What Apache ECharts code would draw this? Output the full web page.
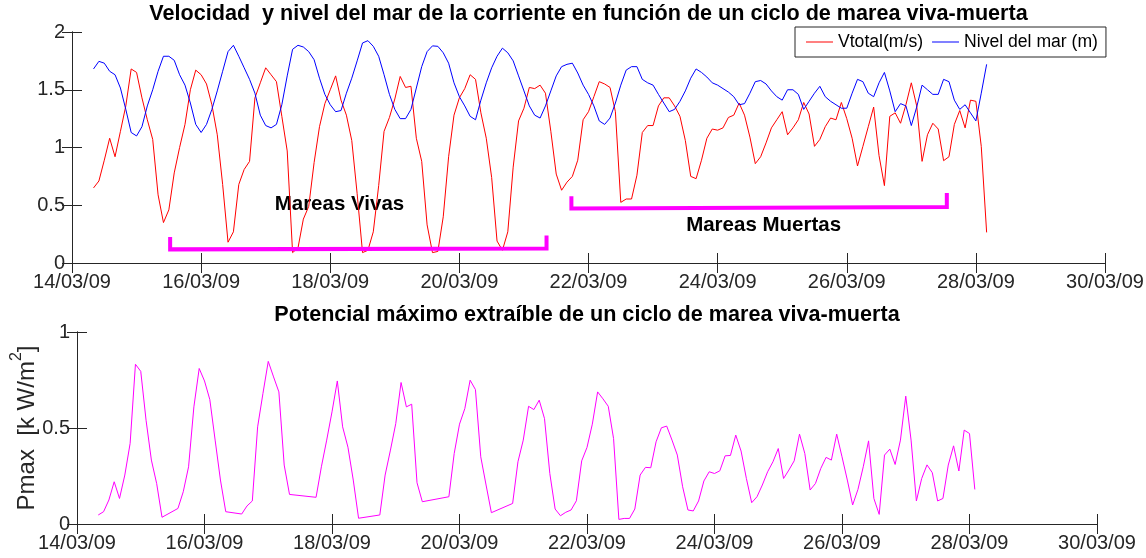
<!DOCTYPE html>
<html>
<head>
<meta charset="utf-8">
<script src="https://cdn.jsdelivr.net/npm/echarts@6/dist/echarts.min.js"></script>
<style>
html, body { margin: 0; padding: 0; background: #fff; }
#grafico { width: 1146px; height: 558px; }
</style>
</head>
<body>
<div id="grafico"></div>
<script>
// etiquetas del eje x (cada 2 dias desde 14/03/09)
const tickLabels = ['14/03/09', '16/03/09', '18/03/09', '20/03/09', '22/03/09', '24/03/09', '26/03/09', '28/03/09', '30/03/09']

// primera muestra 14/03/09 08:00, una muestra cada 2 horas
const startHour = 8
const stepHours = 2

// velocidad total (m/s)
const vtotal = [
  0.65, 0.71, 0.89, 1.08, 0.92, 1.14, 1.36, 1.68, 1.65, 1.43,
  1.24, 1.07, 0.59, 0.35, 0.46, 0.78, 1.00, 1.20, 1.50, 1.67,
  1.63, 1.55, 1.37, 1.11, 0.68, 0.18, 0.27, 0.68, 0.81, 0.88,
  1.43, 1.56, 1.69, 1.63, 1.57, 1.27, 0.97, 0.09, 0.13, 0.38,
  0.49, 0.87, 1.18, 1.38, 1.50, 1.62, 1.41, 1.28, 1.06, 0.60,
  0.09, 0.11, 0.27, 0.67, 1.14, 1.26, 1.42, 1.615, 1.52, 1.53,
  1.08, 0.88, 0.33, 0.09, 0.10, 0.40, 0.92, 1.28, 1.43, 1.51,
  1.63, 1.59, 1.30, 1.08, 0.74, 0.19, 0.11, 0.27, 0.83, 1.23,
  1.34, 1.52, 1.51, 1.54, 1.47, 1.14, 0.77, 0.63, 0.70, 0.75,
  0.89, 1.24, 1.31, 1.44, 1.57, 1.55, 1.52, 1.31, 0.525, 0.554,
  0.554, 0.76, 1.13, 1.19, 1.19, 1.36, 1.43, 1.43, 1.36, 1.27,
  1.06, 0.75, 0.73, 0.89, 1.08, 1.16, 1.15, 1.17, 1.26, 1.28,
  1.385, 1.28, 1.09, 0.86, 0.92, 1.04, 1.17, 1.24, 1.31, 1.11,
  1.17, 1.24, 1.39, 1.29, 1.01, 1.07, 1.18, 1.255, 1.24, 1.39,
  1.25, 1.08, 0.84, 1.01, 1.18, 1.35, 0.93, 0.67, 1.27, 1.30,
  1.21, 1.37, 1.56, 1.36, 0.88, 1.11, 1.21, 1.16, 0.886, 0.92,
  1.20, 1.32, 1.17, 1.41, 1.40, 1.01, 0.265
]

// nivel del mar (m)
const nivel = [
  1.68, 1.746, 1.73, 1.66, 1.63, 1.515, 1.33, 1.13, 1.10, 1.18,
  1.36, 1.50, 1.66, 1.79, 1.79, 1.755, 1.63, 1.54, 1.385, 1.20,
  1.13, 1.20, 1.33, 1.49, 1.66, 1.83, 1.885, 1.79, 1.69, 1.59,
  1.47, 1.28, 1.19, 1.17, 1.20, 1.37, 1.62, 1.85, 1.885, 1.87,
  1.83, 1.76, 1.60, 1.46, 1.37, 1.31, 1.32, 1.47, 1.60, 1.75,
  1.905, 1.925, 1.876, 1.79, 1.63, 1.46, 1.33, 1.25, 1.25, 1.33,
  1.515, 1.70, 1.83, 1.88, 1.876, 1.82, 1.73, 1.56, 1.44, 1.36,
  1.27, 1.24, 1.41, 1.56, 1.69, 1.79, 1.86, 1.82, 1.75, 1.62,
  1.49, 1.36, 1.28, 1.255, 1.36, 1.49, 1.62, 1.70, 1.72, 1.73,
  1.645, 1.54, 1.46, 1.36, 1.23, 1.20, 1.255, 1.385, 1.54, 1.67,
  1.70, 1.70, 1.59, 1.56, 1.54, 1.46, 1.385, 1.31, 1.33, 1.40,
  1.49, 1.60, 1.68, 1.65, 1.61, 1.56, 1.54, 1.51, 1.48, 1.44,
  1.37, 1.38, 1.47, 1.57, 1.58, 1.55, 1.49, 1.44, 1.41, 1.50,
  1.50, 1.46, 1.33, 1.40, 1.47, 1.53, 1.44, 1.40, 1.37, 1.34,
  1.34, 1.47, 1.59, 1.57, 1.47, 1.44, 1.56, 1.65, 1.49, 1.31,
  1.38, 1.36, 1.19, 1.35, 1.54, 1.50, 1.46, 1.46, 1.59, 1.57,
  1.41, 1.33, 1.37, 1.30, 1.23, 1.47, 1.72
]

// potencial maximo (kW/m2), null = sin dato
const pmax = [
  0.047, 0.064, 0.125, 0.22, 0.133, 0.255, 0.42, 0.832, 0.795, 0.54,
  0.333, 0.21, 0.035, null, null, 0.081, 0.168, 0.298, 0.61, 0.81,
  0.745, 0.648, 0.437, 0.229, 0.064, null, null, 0.052, 0.094, 0.12,
  0.506, 0.68, 0.847, 0.766, 0.688, 0.307, 0.154, null, null, null,
  null, 0.139, 0.298, 0.437, 0.584, 0.745, 0.506, 0.40, 0.229, 0.03,
  null, null, null, 0.047, 0.255, 0.385, 0.523, 0.737, 0.61, 0.624,
  0.215, 0.116, null, null, null, null, 0.142, 0.367, 0.52, 0.601,
  0.749, 0.70, 0.35, 0.203, 0.059, null, null, null, 0.107, 0.324,
  0.437, 0.613, 0.596, 0.645, 0.549, 0.263, 0.078, 0.043, 0.061, 0.073,
  0.121, 0.329, 0.399, 0.52, 0.688, 0.652, 0.613, 0.445, 0.024, 0.029,
  0.029, 0.078, 0.255, 0.295, 0.293, 0.428, 0.501, 0.51, 0.437, 0.359,
  0.194, 0.073, 0.068, 0.12, 0.224, 0.272, 0.263, 0.277, 0.355, 0.357,
  0.463, 0.38, 0.237, 0.111, 0.142, 0.203, 0.272, 0.324, 0.393, 0.237,
  0.281, 0.329, 0.468, 0.367, 0.177, 0.211, 0.289, 0.347, 0.333, 0.468,
  0.35, 0.229, 0.099, 0.18, 0.298, 0.433, 0.133, 0.05, 0.359, 0.39,
  0.31, 0.437, 0.666, 0.437, 0.12, 0.237, 0.308, 0.267, 0.12, 0.133,
  0.307, 0.407, 0.276, 0.489, 0.471, 0.18
]

// corchetes y textos de las mareas (dias desde 14/03/09, valor)
const bracketVivas = [[1.52, 0.225], [1.52, 0.118], [7.35, 0.126], [7.35, 0.239]]
const bracketMuertas = [[7.735, 0.577], [7.735, 0.472], [13.55, 0.484], [13.55, 0.606]]
const etiquetasMareas = [
  { name: 'Mareas Vivas', value: [4.15, 0.505] },
  { name: 'Mareas Muertas', value: [10.72, 0.321] }
]

const titulo1 = 'Velocidad  y nivel del mar de la corriente en función de un ciclo de marea viva-muerta'
const titulo2 = 'Potencial máximo extraíble de un ciclo de marea viva-muerta'

const fuente = 'Liberation Sans'
const gris = '#262626'

// tiempo de cada muestra en dias
let dias = []
for (let i = 0; i < vtotal.length; i++) {
  dias.push((startHour + i * stepHours) / 24)
}
const serie = arr => arr.map((v, i) => [dias[i], v])

function ejeX(grid, pos, labels) {
  return {
    type: 'value', gridIndex: grid, position: pos, min: 0, max: 16, interval: 2,
    axisLine: { show: true, lineStyle: { color: gris, width: 1 } },
    axisTick: { show: true, inside: true, length: 10, lineStyle: { color: gris } },
    splitLine: { show: false },
    axisLabel: {
      show: labels, margin: 9, color: gris, fontSize: 20, fontFamily: fuente,
      showMinLabel: true, showMaxLabel: true,
      formatter: v => tickLabels[Math.round(v / 2)]
    }
  }
}
function ejeY(grid, pos, max, labels) {
  return {
    type: 'value', gridIndex: grid, position: pos, min: 0, max: max, interval: 0.5,
    axisLine: { show: true, lineStyle: { color: gris, width: 1 } },
    axisTick: { show: true, inside: true, length: 10, lineStyle: { color: gris } },
    splitLine: { show: false },
    axisLabel: { show: labels, margin: 7, color: gris, fontSize: 20, fontFamily: fuente }
  }
}

let myChart = echarts.init(document.getElementById('grafico'))
let yPot = ejeY(1, 'left', 1, true)
yPot.name = '{a|Pmax  [k W/m}{b|2}{a|]}'
yPot.nameLocation = 'middle'
yPot.nameRotate = 90
yPot.nameGap = 38
yPot.nameMoveOverlap = false
yPot.nameTextStyle = {
  color: gris, fontSize: 24, fontFamily: fuente,
  rich: {
    a: { color: gris, fontSize: 24, lineHeight: 30, fontFamily: fuente, verticalAlign: 'bottom' },
    b: { color: gris, fontSize: 16, lineHeight: 30, fontFamily: fuente, verticalAlign: 'top' }
  }
}

myChart.setOption({
  animation: false,
  backgroundColor: '#fff',
  grid: [
    { left: 72, right: 41, top: 32, height: 231, outerBoundsMode: 'none' },
    { left: 77, right: 49, top: 332, height: 192, outerBoundsMode: 'none' }
  ],
  xAxis: [ejeX(0, 'bottom', true), ejeX(0, 'top', false), ejeX(1, 'bottom', true), ejeX(1, 'top', false)],
  yAxis: [ejeY(0, 'left', 2, true), ejeY(0, 'right', 2, false), yPot, ejeY(1, 'right', 1, false)],
  legend: {
    data: ['Vtotal(m/s)', 'Nivel del mar (m)'],
    left: 795, top: 27,
    padding: [6, 8, 6, 11],
    itemGap: 9, itemWidth: 27, itemHeight: 1,
    icon: 'rect',
    backgroundColor: '#fff', borderColor: gris, borderWidth: 1, borderRadius: 0,
    textStyle: { color: '#000', fontSize: 17.6, fontFamily: fuente }
  },
  graphic: [
    { type: 'text', x: 588.5, y: 14.5, z: 10, style: { text: titulo1, fill: '#000', font: 'bold 21.6px "Liberation Sans"', align: 'center', verticalAlign: 'middle', textAlign: 'center', textVerticalAlign: 'middle' } },
    { type: 'text', x: 587, y: 314.7, z: 10, style: { text: titulo2, fill: '#000', font: 'bold 21.6px "Liberation Sans"', align: 'center', verticalAlign: 'middle', textAlign: 'center', textVerticalAlign: 'middle' } }
  ],
  series: [
    {
      name: 'Vtotal(m/s)', type: 'line', xAxisIndex: 0, yAxisIndex: 0,
      data: serie(vtotal), showSymbol: false, symbol: 'none',
      color: '#FF0000', lineStyle: { color: '#FF0000', width: 1 }
    },
    {
      name: 'Nivel del mar (m)', type: 'line', xAxisIndex: 0, yAxisIndex: 0,
      data: serie(nivel), showSymbol: false, symbol: 'none',
      color: '#0000FF', lineStyle: { color: '#0000FF', width: 1 }
    },
    {
      name: 'vivas', type: 'line', xAxisIndex: 0, yAxisIndex: 0,
      data: bracketVivas, symbol: 'none',
      lineStyle: { color: '#FF00FF', width: 4, cap: 'butt', join: 'miter' }
    },
    {
      name: 'muertas', type: 'line', xAxisIndex: 0, yAxisIndex: 0,
      data: bracketMuertas, symbol: 'none',
      lineStyle: { color: '#FF00FF', width: 4, cap: 'butt', join: 'miter' }
    },
    {
      name: 'textos', type: 'scatter', xAxisIndex: 0, yAxisIndex: 0,
      data: etiquetasMareas, symbolSize: 1,
      itemStyle: { color: '#fff', opacity: 0 },
      label: {
        show: true, position: [0, 0], align: 'center', verticalAlign: 'middle',
        formatter: p => p.name, opacity: 1,
        color: '#000', textBorderWidth: 0, fontSize: 20.5, fontWeight: 'bold', fontFamily: fuente
      }
    },
    {
      name: 'Pmax', type: 'line', xAxisIndex: 2, yAxisIndex: 2,
      data: serie(pmax), connectNulls: true, showSymbol: false, symbol: 'none',
      color: '#FF00FF', lineStyle: { color: '#FF00FF', width: 1 }
    }
  ]
})
</script>
</body>
</html>
